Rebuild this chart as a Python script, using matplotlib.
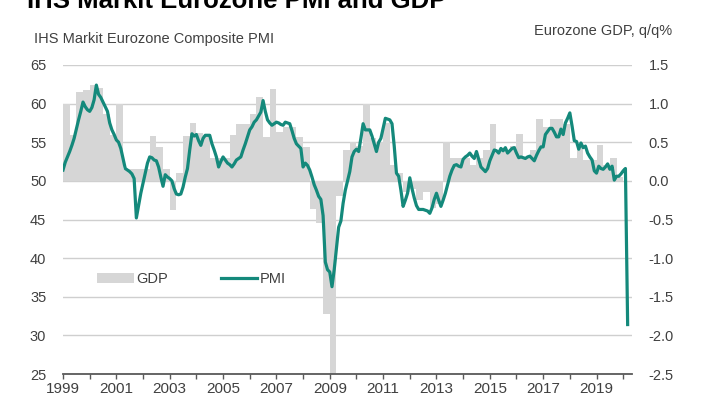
import numpy as np
import matplotlib
matplotlib.use("Agg")
import matplotlib.pyplot as plt
from matplotlib.patches import Patch
from matplotlib.lines import Line2D

plt.rcParams['font.family'] = ['Liberation Sans', 'DejaVu Sans']

# Eurozone composite PMI, monthly, Jan 1999 - Mar 2020
pmi_1999 = [51.4, 52.4, 53.1, 53.8, 54.6, 55.5, 56.7, 57.9, 59.0, 60.2, 59.6, 59.2]
pmi_2000 = [59.0, 59.5, 60.5, 62.4, 61.2, 60.8, 60.2, 59.6, 59.0, 57.5, 56.6, 56.0]
pmi_2001 = [55.3, 55.0, 54.2, 52.9, 51.6, 51.4, 51.2, 50.9, 50.3, 45.2, 46.8, 48.4]
pmi_2002 = [49.7, 51.0, 52.3, 53.1, 53.0, 52.7, 52.6, 51.8, 50.5, 49.3, 50.8, 50.5]
pmi_2003 = [50.3, 50.0, 49.0, 48.3, 48.2, 48.3, 49.2, 50.5, 51.6, 54.0, 56.1, 55.8]
pmi_2004 = [56.0, 55.2, 54.6, 55.5, 55.9, 55.9, 55.9, 54.8, 54.0, 53.1, 51.8, 52.5]
pmi_2005 = [53.1, 52.7, 52.3, 52.1, 51.8, 52.2, 52.7, 52.9, 53.1, 54.0, 54.8, 55.7]
pmi_2006 = [56.6, 57.0, 57.6, 57.9, 58.4, 58.9, 60.4, 59.0, 57.9, 57.5, 57.2, 57.4]
pmi_2007 = [57.6, 57.5, 57.3, 57.2, 57.6, 57.5, 57.4, 56.5, 55.5, 54.8, 54.5, 54.2]
pmi_2008 = [51.8, 52.3, 52.0, 51.4, 50.5, 49.5, 48.8, 48.0, 47.6, 45.5, 39.5, 38.5]
pmi_2009 = [38.2, 36.3, 38.5, 41.2, 44.0, 44.8, 47.1, 48.8, 50.0, 51.2, 53.1, 53.8]
pmi_2010 = [54.1, 53.8, 55.5, 57.4, 56.6, 56.6, 56.6, 55.8, 54.8, 53.8, 55.0, 55.5]
pmi_2011 = [56.8, 58.1, 58.0, 57.9, 57.4, 54.5, 51.0, 50.6, 48.8, 46.7, 47.5, 48.4]
pmi_2012 = [50.4, 49.0, 47.8, 46.8, 46.3, 46.3, 46.3, 46.2, 46.1, 45.8, 46.5, 47.6]
pmi_2013 = [48.4, 47.5, 46.7, 47.5, 48.4, 49.5, 50.6, 51.4, 52.0, 52.1, 51.9, 51.8]
pmi_2014 = [52.8, 53.1, 53.3, 53.6, 53.2, 52.9, 53.8, 52.8, 51.8, 51.5, 51.2, 51.6]
pmi_2015 = [52.6, 53.3, 54.0, 53.9, 53.6, 54.2, 53.9, 54.3, 53.6, 53.9, 54.2, 54.3]
pmi_2016 = [53.6, 53.0, 53.1, 53.0, 52.9, 53.1, 53.2, 52.9, 52.6, 53.3, 53.9, 54.4]
pmi_2017 = [54.4, 56.0, 56.4, 56.8, 56.8, 56.3, 55.7, 55.7, 56.7, 56.0, 57.5, 58.1]
pmi_2018 = [58.8, 57.1, 55.2, 55.1, 54.1, 54.9, 54.3, 54.5, 53.6, 53.1, 52.7, 51.3]
pmi_2019 = [51.0, 51.9, 51.6, 51.5, 51.8, 52.2, 51.5, 51.9, 50.1, 50.6, 50.6, 50.9]
pmi_2020 = [51.3, 51.6, 31.4]

# Eurozone GDP q/q %, quarterly, 1999Q1 - 2019Q4
gdp_1999_2003 = [1.0, 0.6, 1.15, 1.17,
                 1.24, 1.2, 0.87, 0.6,
                 1.0, 0.15, 0.15, 0.15,
                 0.15, 0.58, 0.44, 0.15,
                 -0.38, 0.1, 0.58, 0.75]
gdp_2004_2008 = [0.62, 0.6, 0.3, 0.3,
                 0.3, 0.59, 0.74, 0.74,
                 0.87, 1.08, 0.57, 1.19,
                 0.63, 0.7, 0.7, 0.57,
                 0.44, -0.37, -0.54, -1.72]
gdp_2009_2013 = [-3.0, -0.2, 0.4, 0.5,
                 0.45, 1.0, 0.55, 0.5,
                 0.75, 0.2, 0.1, -0.15,
                 -0.1, -0.25, -0.15, -0.35,
                 -0.3, 0.5, 0.3, 0.3]
gdp_2014_2019 = [0.3, 0.2, 0.3, 0.4,
                 0.74, 0.4, 0.4, 0.45,
                 0.61, 0.3, 0.4, 0.8,
                 0.7, 0.8, 0.8, 0.74,
                 0.3, 0.45, 0.27, 0.27,
                 0.46, 0.2, 0.29, 0.05]

year_ticks = list(range(1999, 2021))
year_labels = [str(y) if y % 2 == 1 else '' for y in year_ticks]

pmi = np.array(pmi_1999 + pmi_2000 + pmi_2001 + pmi_2002 + pmi_2003 + pmi_2004
               + pmi_2005 + pmi_2006 + pmi_2007 + pmi_2008 + pmi_2009 + pmi_2010
               + pmi_2011 + pmi_2012 + pmi_2013 + pmi_2014 + pmi_2015 + pmi_2016
               + pmi_2017 + pmi_2018 + pmi_2019 + pmi_2020)
gdp = np.array(gdp_1999_2003 + gdp_2004_2008 + gdp_2009_2013 + gdp_2014_2019)
t_pmi = 1999 + np.arange(len(pmi)) / 12
t_gdp = 1999 + np.arange(len(gdp)) * 0.25

teal = '#14897b'
bar_grey = '#d6d6d6'
txt = '#404040'

fig = plt.figure(figsize=(7.2, 4.05), dpi=100)
ax2 = fig.add_axes([63 / 720, 1 - 374 / 405, 569 / 720, 309 / 405])
ax = ax2.twinx()
ax.yaxis.tick_left()
ax2.yaxis.tick_right()

# GDP bars on the right axis, behind
ax2.bar(t_gdp, gdp, width=0.25, align='edge', color=bar_grey, linewidth=0)
ax2.set_ylim(-2.5, 1.5)
ax2.set_yticks(np.arange(-2.5, 1.51, 0.5))
ax2.set_yticklabels([f'{v:.1f}' for v in np.arange(-2.5, 1.51, 0.5)])
ax2.set_axisbelow(True)
ax2.grid(axis='y', color='#cfcfcf', linewidth=1.0)

# PMI line on the left axis, on top
ax.plot(t_pmi, pmi, color=teal, linewidth=2.3, solid_joinstyle='round')
ax.set_ylim(25, 65)
ax.set_yticks(range(25, 66, 5))

ax2.set_xlim(1999, 2020.33)
ax2.set_xticks(year_ticks)
ax2.set_xticklabels(year_labels)

for a in (ax, ax2):
    for s in a.spines.values():
        s.set_visible(False)
    a.tick_params(axis='y', length=0, labelsize=10.5, labelcolor=txt, pad=12)
ax2.spines['bottom'].set_visible(True)
ax2.spines['bottom'].set_color('#595959')
ax2.spines['bottom'].set_linewidth(1.3)
ax2.tick_params(axis='x', direction='out', length=3.5, width=1.0, color='#595959',
                labelsize=11, labelcolor=txt, pad=2)
ax.tick_params(axis='x', bottom=False, labelbottom=False)

handles = [Patch(facecolor=bar_grey, edgecolor='none'),
           Line2D([], [], color=teal, linewidth=2.3)]
ax.legend(handles, ['GDP', 'PMI'], loc='center left', bbox_to_anchor=(0.06, 0.307),
          ncol=2, frameon=False, fontsize=10.5, handlelength=2.5, handleheight=0.7,
          handletextpad=0.2, columnspacing=3.6, borderpad=0, borderaxespad=0,
          labelcolor=txt)

fig.text(27 / 720, 1 - 8 / 405, 'IHS Markit Eurozone PMI and GDP', fontsize=18.5,
         fontweight='bold', color='black', ha='left', va='baseline')
fig.text(34 / 720, 1 - 43 / 405, 'IHS Markit Eurozone Composite PMI', fontsize=10.5,
         color=txt, ha='left', va='baseline')
fig.text(672 / 720, 1 - 35 / 405, 'Eurozone GDP, q/q%', fontsize=10.5,
         color=txt, ha='right', va='baseline')

fig.savefig('out.png', dpi=100)
